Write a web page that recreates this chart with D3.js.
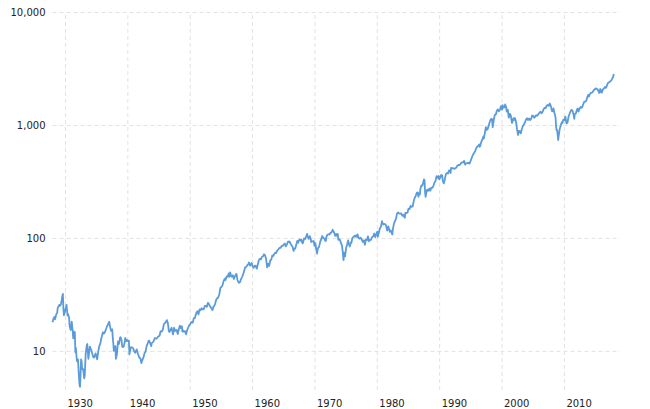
<!DOCTYPE html>
<html><head><meta charset="utf-8">
<script src="https://cdn.jsdelivr.net/npm/d3@7"></script>
<style>
html,body{margin:0;padding:0;background:#fff;}
svg{display:block;font-family:"DejaVu Sans",Verdana,sans-serif;}
</style></head>
<body><svg id="c" width="650" height="409"></svg>
<script>
const dates = [
"1928-01","1928-03","1928-05","1928-06","1928-08","1928-10","1928-11","1928-12",
"1929-02","1929-03","1929-05","1929-07","1929-08","1929-09","1929-10","1929-11","1929-12",
"1930-02","1930-04","1930-06","1930-07","1930-09","1930-10","1930-12",
"1931-02","1931-04","1931-05","1931-06","1931-08","1931-09","1931-10","1931-12",
"1932-02","1932-04","1932-05","1932-06","1932-07","1932-08","1932-09","1932-10","1932-12",
"1933-02","1933-03","1933-05","1933-07","1933-08","1933-10","1933-12",
"1934-01","1934-02","1934-04","1934-07","1934-09","1934-12",
"1935-03","1935-05","1935-07","1935-09","1935-11","1935-12",
"1936-02","1936-04","1936-06","1936-08","1936-10","1936-12",
"1937-02","1937-04","1937-06","1937-08","1937-09","1937-10","1937-11","1937-12",
"1938-02","1938-03","1938-05","1938-07","1938-09","1938-11","1938-12",
"1939-02","1939-03","1939-04","1939-06","1939-08","1939-09","1939-11","1939-12",
"1940-02","1940-04","1940-05","1940-06","1940-08","1940-10","1940-12",
"1941-02","1941-04","1941-07","1941-09","1941-11","1941-12",
"1942-02","1942-04","1942-06","1942-08","1942-10","1942-12",
"1943-02","1943-04","1943-06","1943-07","1943-09","1943-11","1943-12",
"1944-03","1944-06","1944-09","1944-12",
"1945-03","1945-05","1945-07","1945-09","1945-11","1945-12",
"1946-02","1946-05","1946-07","1946-09","1946-10","1946-12",
"1947-02","1947-04","1947-05","1947-07","1947-09","1947-12",
"1948-02","1948-04","1948-06","1948-08","1948-10","1948-11","1948-12",
"1949-02","1949-04","1949-06","1949-08","1949-10","1949-12",
"1950-02","1950-04","1950-06","1950-07","1950-09","1950-11","1950-12",
"1951-02","1951-04","1951-06","1951-08","1951-10","1951-12",
"1952-02","1952-04","1952-06","1952-08","1952-10","1952-12",
"1953-01","1953-03","1953-06","1953-08","1953-09","1953-11","1953-12",
"1954-02","1954-04","1954-06","1954-08","1954-10","1954-12",
"1955-02","1955-04","1955-06","1955-08","1955-09","1955-10","1955-12",
"1956-02","1956-04","1956-05","1956-07","1956-09","1956-11","1956-12",
"1957-02","1957-04","1957-06","1957-07","1957-09","1957-10","1957-12",
"1958-02","1958-04","1958-06","1958-08","1958-10","1958-12",
"1959-02","1959-04","1959-06","1959-07","1959-09","1959-11","1959-12",
"1960-02","1960-04","1960-06","1960-08","1960-10","1960-12",
"1961-02","1961-04","1961-06","1961-08","1961-10","1961-12",
"1962-02","1962-04","1962-06","1962-08","1962-10","1962-12",
"1963-02","1963-04","1963-06","1963-08","1963-10","1963-11","1963-12",
"1964-02","1964-04","1964-06","1964-08","1964-10","1964-12",
"1965-02","1965-04","1965-06","1965-08","1965-10","1965-12",
"1966-01","1966-03","1966-05","1966-07","1966-09","1966-10","1966-12",
"1967-02","1967-04","1967-06","1967-07","1967-09","1967-11","1967-12",
"1968-02","1968-03","1968-05","1968-07","1968-09","1968-11","1968-12",
"1969-02","1969-04","1969-06","1969-07","1969-09","1969-11","1969-12",
"1970-01","1970-03","1970-05","1970-06","1970-08","1970-10","1970-12",
"1971-02","1971-04","1971-06","1971-08","1971-10","1971-11","1971-12",
"1972-02","1972-04","1972-06","1972-08","1972-10","1972-12",
"1973-01","1973-03","1973-05","1973-07","1973-08","1973-10","1973-11","1973-12",
"1974-02","1974-04","1974-06","1974-07","1974-09","1974-10","1974-11","1974-12",
"1975-02","1975-04","1975-06","1975-07","1975-09","1975-11","1975-12",
"1976-02","1976-04","1976-06","1976-08","1976-09","1976-11","1976-12",
"1977-02","1977-04","1977-06","1977-08","1977-10","1977-12",
"1978-02","1978-04","1978-06","1978-08","1978-10","1978-12",
"1979-02","1979-04","1979-06","1979-08","1979-10","1979-12",
"1980-02","1980-03","1980-05","1980-07","1980-09","1980-11","1980-12",
"1981-02","1981-04","1981-06","1981-08","1981-09","1981-11","1981-12",
"1982-02","1982-04","1982-06","1982-07","1982-08","1982-10","1982-12",
"1983-02","1983-04","1983-06","1983-08","1983-10","1983-12",
"1984-02","1984-04","1984-06","1984-07","1984-08","1984-10","1984-12",
"1985-02","1985-04","1985-06","1985-08","1985-10","1985-12",
"1986-02","1986-04","1986-06","1986-08","1986-09","1986-11","1986-12",
"1987-01","1987-03","1987-05","1987-07","1987-08","1987-09","1987-10","1987-11","1987-12",
"1988-02","1988-04","1988-06","1988-08","1988-10","1988-12",
"1989-02","1989-04","1989-06","1989-08","1989-10","1989-12",
"1990-01","1990-03","1990-05","1990-07","1990-08","1990-10","1990-12",
"1991-02","1991-04","1991-06","1991-08","1991-10","1991-11","1991-12",
"1992-02","1992-04","1992-06","1992-08","1992-10","1992-12",
"1993-02","1993-04","1993-06","1993-08","1993-10","1993-12",
"1994-01","1994-03","1994-05","1994-07","1994-09","1994-11","1994-12",
"1995-02","1995-04","1995-06","1995-08","1995-10","1995-12",
"1996-02","1996-04","1996-06","1996-07","1996-08","1996-10","1996-12",
"1997-02","1997-03","1997-05","1997-07","1997-08","1997-10","1997-12",
"1998-02","1998-04","1998-06","1998-07","1998-08","1998-10","1998-12",
"1999-02","1999-04","1999-06","1999-08","1999-10","1999-12",
"2000-02","2000-03","2000-05","2000-07","2000-08","2000-10","2000-11","2000-12",
"2001-01","2001-03","2001-05","2001-07","2001-09","2001-10","2001-12",
"2002-02","2002-03","2002-05","2002-07","2002-09","2002-10","2002-12",
"2003-02","2003-04","2003-06","2003-08","2003-10","2003-12",
"2004-02","2004-04","2004-06","2004-08","2004-10","2004-12",
"2005-02","2005-04","2005-06","2005-08","2005-10","2005-12",
"2006-02","2006-04","2006-06","2006-08","2006-10","2006-12",
"2007-02","2007-04","2007-06","2007-08","2007-10","2007-12",
"2008-02","2008-03","2008-05","2008-07","2008-09","2008-10","2008-11","2008-12",
"2009-01","2009-02","2009-03","2009-05","2009-07","2009-09","2009-10","2009-12",
"2010-02","2010-04","2010-06","2010-08","2010-10","2010-12",
"2011-02","2011-04","2011-06","2011-08","2011-09","2011-10","2011-12",
"2012-02","2012-04","2012-05","2012-07","2012-09","2012-11","2012-12",
"2013-02","2013-04","2013-06","2013-08","2013-10","2013-12",
"2014-01","2014-03","2014-05","2014-07","2014-09","2014-10","2014-12",
"2015-02","2015-04","2015-06","2015-08","2015-09","2015-11","2015-12",
"2016-01","2016-02","2016-04","2016-06","2016-08","2016-10","2016-12",
"2017-02","2017-04","2017-06","2017-08","2017-10","2017-12",
"2018-01"
];
const values = [
17.9,19.3,20.0,19.0,20.9,21.7,24.0,24.4,
25.5,25.0,25.6,28.5,30.6,31.9,23.5,20.6,21.4,
23.3,25.5,20.5,21.1,19.5,16.5,15.3,
18.1,14.8,12.9,14.8,14.6,9.7,10.6,8.1,
8.4,5.8,5.0,4.8,6.1,8.4,8.1,6.9,6.9,
5.7,6.0,9.6,11.2,11.5,8.5,10.1,
10.9,10.5,10.1,8.9,8.7,9.5,
8.4,9.8,11.0,11.6,13.0,13.4,
14.6,14.2,14.7,15.6,16.5,17.2,
18.1,16.2,15.0,15.5,13.0,11.7,10.0,10.5,
11.0,8.5,9.3,12.1,11.5,13.1,13.2,
12.3,11.0,10.8,10.9,11.9,13.0,12.2,12.5,
12.2,12.3,9.3,9.9,10.8,10.7,10.6,
9.9,9.6,10.3,9.5,9.0,8.7,
8.6,7.8,8.3,8.7,9.5,9.8,
11.0,11.5,12.3,12.3,11.7,11.0,11.7,
12.0,13.0,12.8,13.3,
13.6,14.9,14.8,15.2,17.0,17.4,
17.7,18.7,17.6,14.9,14.7,15.3,
16.0,14.6,14.0,16.0,15.0,15.3,
14.1,15.5,16.7,15.9,16.5,14.8,15.2,
14.8,14.9,14.0,15.2,16.0,16.8,
17.2,18.0,17.7,17.8,19.5,19.5,20.4,
21.8,22.4,21.0,23.3,22.9,23.8,
23.3,23.3,25.0,25.0,24.5,26.6,
26.4,25.3,24.1,23.3,23.0,24.8,24.8,
26.2,28.3,29.2,29.8,31.7,36.0,
36.8,37.9,41.0,43.2,43.7,42.3,45.5,
45.3,48.4,45.2,49.4,45.4,45.6,46.7,
43.3,45.7,47.4,47.9,42.4,41.1,40.0,
40.8,43.4,45.2,47.8,51.3,55.2,
55.4,57.6,58.5,60.5,56.9,58.3,59.9,
56.1,54.4,56.9,56.5,53.4,58.1,
63.4,65.3,64.6,68.1,68.6,71.6,
69.9,65.2,54.8,59.1,56.5,63.1,
64.3,69.8,69.4,72.5,74.0,73.2,75.0,
77.8,79.5,81.7,81.8,85.0,84.8,
87.4,89.1,84.1,87.2,92.4,92.4,
92.9,89.2,86.1,83.6,76.6,80.2,80.3,
86.8,94.0,90.6,94.8,96.7,94.0,96.5,
89.4,90.2,98.7,97.7,102.7,108.4,103.9,
98.1,103.7,97.7,91.8,93.1,93.8,92.1,
85.0,89.6,76.6,72.7,81.5,83.3,92.2,
96.8,103.9,99.7,99.0,94.2,93.9,102.1,
106.6,107.7,107.1,111.1,111.6,118.1,
116.0,111.5,104.2,108.2,104.3,108.3,96.0,97.6,
96.2,90.3,86.0,79.3,63.5,73.9,70.0,68.6,
81.6,87.3,95.2,88.8,83.9,91.2,90.2,
99.7,101.6,104.3,102.9,105.2,102.1,107.5,
99.8,98.4,100.5,96.8,92.3,95.1,
87.0,96.8,95.5,103.3,93.2,96.1,
96.3,101.8,102.9,109.3,101.8,107.9,
113.7,102.1,111.2,121.7,125.5,140.5,135.8,
131.3,132.8,131.2,122.8,116.2,126.4,122.6,
113.1,116.4,109.6,107.1,119.5,133.7,140.6,
148.1,164.4,168.1,164.4,163.6,164.9,
157.1,160.1,153.2,150.7,166.7,166.1,167.2,
181.2,179.8,191.9,188.6,189.8,211.3,
226.9,235.5,250.8,252.9,231.3,249.2,242.2,
274.1,291.7,290.1,318.7,329.8,321.8,251.8,230.3,247.1,
267.8,261.3,273.5,261.5,279.0,277.7,
288.9,309.6,318.0,351.5,340.4,353.4,
329.1,339.9,361.2,356.2,322.6,304.0,330.2,
367.1,375.3,371.2,395.4,392.5,375.2,417.1,
412.7,415.0,408.1,414.0,418.7,435.7,
443.4,440.2,450.5,463.6,467.8,466.5,
481.6,445.8,456.5,458.3,462.7,453.7,459.3,
487.4,514.7,544.8,561.9,581.5,615.9,
640.4,654.2,670.6,640.0,652.0,705.3,740.7,
790.8,757.1,848.3,954.3,899.5,914.6,970.4,
1049.3,1111.8,1133.8,1120.7,957.3,1098.7,1229.2,
1238.3,1335.2,1372.7,1320.4,1362.9,1469.3,
1366.4,1498.6,1420.6,1430.8,1517.7,1429.4,1315.0,1320.3,
1366.0,1160.3,1255.8,1211.2,1040.9,1059.8,1148.1,
1106.7,1147.4,1067.1,911.6,815.3,885.8,879.8,
841.2,916.9,974.5,1008.0,1050.7,1111.9,
1144.9,1107.3,1140.8,1104.2,1130.2,1211.9,
1203.6,1156.9,1191.3,1220.3,1207.0,1248.3,
1280.7,1310.6,1270.2,1303.8,1377.9,1418.3,
1406.8,1482.4,1503.4,1474.0,1549.4,1468.4,
1330.6,1322.7,1400.4,1267.4,1166.4,968.8,896.2,903.3,
825.9,735.1,797.9,919.1,987.5,1057.1,1036.2,1115.1,
1104.5,1186.7,1030.7,1049.3,1183.3,1257.6,
1327.2,1363.6,1320.6,1218.9,1131.4,1253.3,1257.6,
1365.7,1397.9,1310.3,1379.3,1440.7,1416.2,1426.2,
1514.7,1597.6,1606.3,1633.0,1756.5,1848.4,
1782.6,1872.3,1923.6,1930.7,1972.3,2018.1,2058.9,
2104.5,2085.5,2063.1,1972.2,1920.0,2080.4,2043.9,
1940.2,1932.2,2065.3,2098.9,2171.0,2126.2,2238.8,
2363.6,2384.2,2423.4,2471.7,2575.3,2673.6,
2823.8
];
const yTicks = [10, 100, 1000, 10000];
const xTickYears = [1930, 1940, 1950, 1960, 1970, 1980, 1990, 2000, 2010];
const yMin = 4.5, yMax = 10000;
const xStart = "1928-01", xEnd = "2019-01";

(function () {
const parse = d3.timeParse("%Y-%m");
const data = dates.map((d, i) => ({date: parse(d), value: values[i]}));

const mLeft = 52.5, mRight = 620, mTop = 12, mBottom = 390;
const svg = d3.select("#c");

const x = d3.scaleTime().domain([parse(xStart), parse(xEnd)]).range([mLeft, mRight]);
const y = d3.scaleLog().domain([yMin, yMax]).range([mBottom, mTop]);

const gridColor = "#e2e2e2";
const font = '"DejaVu Sans", Verdana, sans-serif';

const gy = svg.append("g").attr("transform", `translate(${mLeft},0)`)
  .call(d3.axisLeft(y).tickValues(yTicks).tickFormat(d3.format(","))
    .tickSize(-(mRight - mLeft)).tickPadding(7));
gy.select(".domain").remove();
gy.selectAll(".tick line").attr("stroke", gridColor).attr("stroke-dasharray", "4,3");
gy.selectAll(".tick text").attr("fill", "#222").style("font-size", "10px").style("font-family", font);

const gx = svg.append("g").attr("transform", `translate(0,${mBottom})`)
  .call(d3.axisBottom(x).tickValues(xTickYears.map(yv => new Date(yv, 0, 1)))
    .tickFormat(d3.timeFormat("%Y")).tickSize(-(mBottom - mTop)).tickPadding(9.5));
gx.select(".domain").remove();
gx.selectAll(".tick line").attr("stroke", gridColor).attr("stroke-dasharray", "4,3");
gx.selectAll(".tick text").attr("fill", "#222").style("font-size", "10px").style("font-family", font)
  .attr("text-anchor", "start").attr("dx", 2);

const line = d3.line().x(d => x(d.date)).y(d => y(d.value));
svg.append("path").datum(data)
  .attr("fill", "none")
  .attr("stroke", "#5b9bd9")
  .attr("stroke-width", 1.8)
  .attr("stroke-linejoin", "round")
  .attr("d", line);
})();
</script></body></html>
